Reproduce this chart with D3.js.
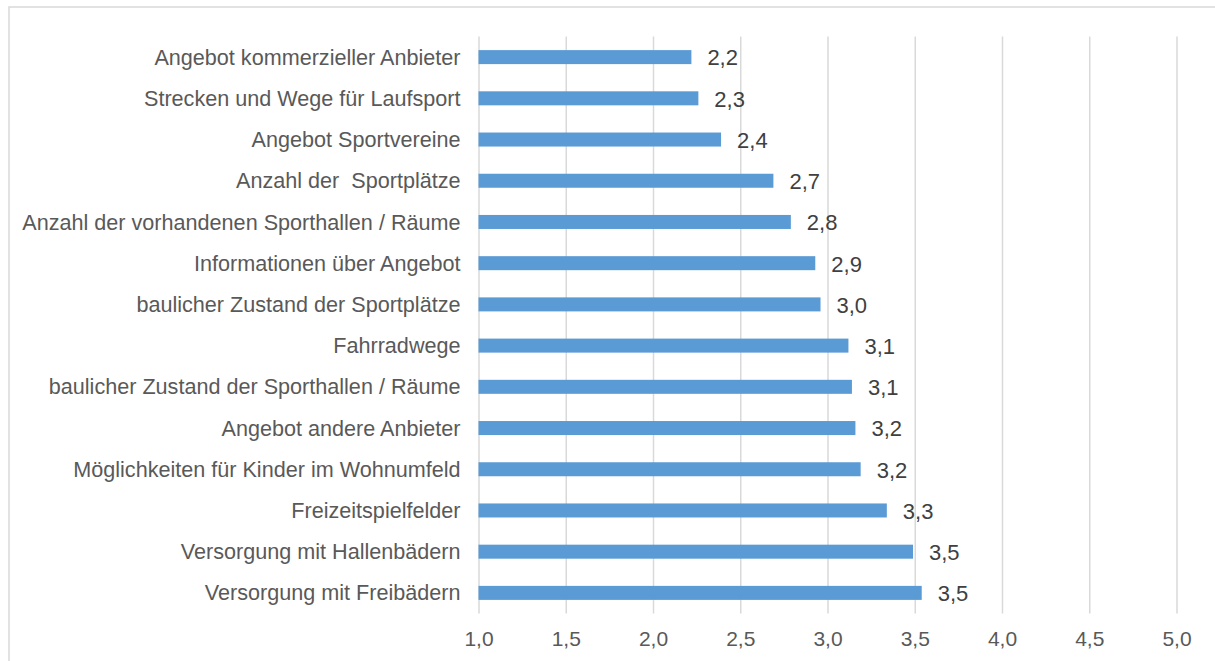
<!DOCTYPE html>
<html>
<head>
<meta charset="utf-8">
<script src="https://d3js.org/d3.v7.min.js"></script>
<style>
  body { margin: 0; background: #fff; }
  svg { font-family: "Liberation Sans", Arial, sans-serif; }
  .cat { fill: #595959; font-size: 21.6px; white-space: pre; }
  .val { fill: #404040; font-size: 22px; }
  .x.axis text { fill: #595959; font-size: 21px; font-family: "Liberation Sans", Arial, sans-serif; }
  .x.axis line { stroke: #d9d9d9; stroke-width: 1.5px; }
  .x.axis .domain { display: none; }
  .bar { fill: #5b9bd5; }
</style>
</head>
<body>
<script>
// data (mean ratings)
var categories = [
  "Angebot kommerzieller Anbieter",
  "Strecken und Wege für Laufsport",
  "Angebot Sportvereine",
  "Anzahl der  Sportplätze",
  "Anzahl der vorhandenen Sporthallen / Räume",
  "Informationen über Angebot",
  "baulicher Zustand der Sportplätze",
  "Fahrradwege",
  "baulicher Zustand der Sporthallen / Räume",
  "Angebot andere Anbieter",
  "Möglichkeiten für Kinder im Wohnumfeld",
  "Freizeitspielfelder",
  "Versorgung mit Hallenbädern",
  "Versorgung mit Freibädern"
];
var values = [2.22, 2.26, 2.39, 2.69, 2.79, 2.93, 2.96, 3.12, 3.14, 3.16, 3.19, 3.34, 3.49, 3.54];
var xTicks = [1.0, 1.5, 2.0, 2.5, 3.0, 3.5, 4.0, 4.5, 5.0];

var W = 1215, H = 661;
var plot = {left: 478.5, right: 1176.5, top: 36.5, bottom: 613.5};

var svg = d3.select("body").append("svg")
    .attr("width", W)
    .attr("height", H);

// outer frame (only top & left visible in the crop)
svg.append("rect")
    .attr("x", 9).attr("y", 7)
    .attr("width", W + 20).attr("height", H + 20)
    .attr("fill", "none")
    .attr("stroke", "#d9d9d9")
    .attr("stroke-width", 1.5);

var x = d3.scaleLinear()
    .domain([1, 5])
    .range([plot.left, plot.right]);

var y = d3.scaleBand()
    .domain(categories)
    .range([plot.top, plot.bottom])
    .paddingInner(0.66)
    .paddingOuter(0.33);

var fmt = function(v) { return d3.format(".1f")(v).replace(".", ","); };

// x axis + vertical gridlines
svg.append("g")
    .attr("class", "x axis")
    .attr("transform", "translate(0," + plot.bottom + ")")
    .call(d3.axisBottom(x)
      .tickValues(xTicks)
      .tickSize(-(plot.bottom - plot.top))
      .tickPadding(18)
      .tickFormat(fmt));

// bars
svg.selectAll("rect.bar")
    .data(values)
    .enter()
    .append("rect")
    .attr("class", "bar")
    .attr("x", x(1))
    .attr("y", function(d, i) { return y(categories[i]); })
    .attr("width", function(d) { return x(d) - x(1); })
    .attr("height", y.bandwidth());

// category labels
svg.selectAll("text.cat")
    .data(categories)
    .enter()
    .append("text")
    .attr("class", "cat")
    .attr("x", plot.left - 18)
    .attr("y", function(d) { return y(d) + y.bandwidth() / 2; })
    .attr("dy", "0.35em")
    .attr("text-anchor", "end")
    .text(function(d) { return d; });

// value labels
svg.selectAll("text.val")
    .data(values)
    .enter()
    .append("text")
    .attr("class", "val")
    .attr("x", function(d) { return x(d) + 16; })
    .attr("y", function(d, i) { return y(categories[i]) + y.bandwidth() / 2; })
    .attr("dy", "0.38em")
    .text(function(d) { return fmt(d); });
</script>
</body>
</html>
